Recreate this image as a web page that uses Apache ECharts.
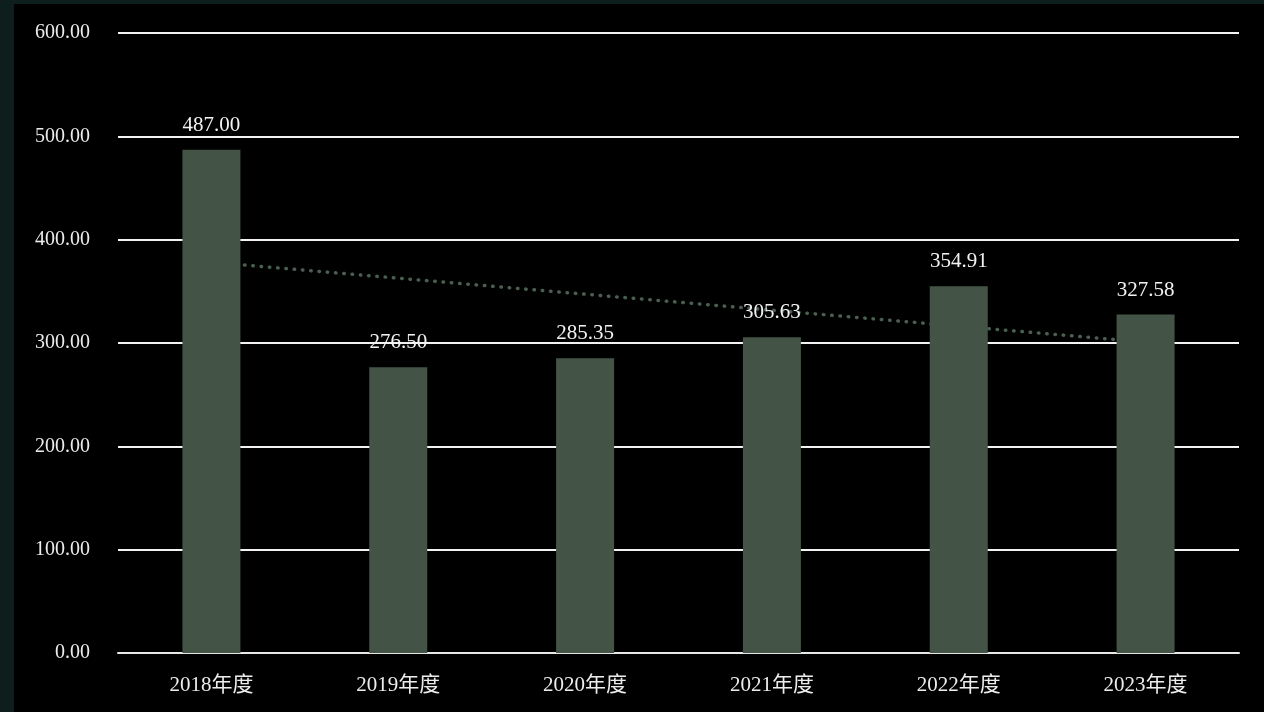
<!DOCTYPE html>
<html>
<head>
<meta charset="utf-8">
<script src="https://cdn.jsdelivr.net/npm/echarts@6/dist/echarts.min.js"></script>
<style>
  html, body { margin: 0; padding: 0; width: 1264px; height: 712px; background: #0e1e1d; overflow: hidden; }
  #chart { position: absolute; left: 14px; top: 4px; width: 1250px; height: 708px; background: #000; }
</style>
</head>
<body>
<div id="chart"></div>
<script>
// Fiscal years and their values
const categories = ['2018年度', '2019年度', '2020年度', '2021年度', '2022年度', '2023年度'];
const values = [487.00, 276.50, 285.35, 305.63, 354.91, 327.58];
const yTicks = { min: 0, max: 600, interval: 100 };

// Least-squares linear trend over the yearly values
function linearTrend(ys) {
  const n = ys.length;
  const mx = (n - 1) / 2;
  const my = ys.reduce((a, b) => a + b, 0) / n;
  let sxy = 0, sxx = 0;
  ys.forEach((y, i) => { sxy += (i - mx) * (y - my); sxx += (i - mx) * (i - mx); });
  const slope = sxy / sxx;
  return ys.map((_, i) => my + slope * (i - mx));
}
const trend = linearTrend(values);

const fontFamily = '"Liberation Serif", "DejaVu Serif", "Noto Sans CJK SC", serif';
const chart = echarts.init(document.getElementById('chart'));
chart.setOption({
  backgroundColor: '#000',
  animation: false,
  grid: { left: 104, right: 25, top: 29, bottom: 59, containLabel: false },
  xAxis: {
    type: 'category',
    data: categories,
    axisLine: { show: true, lineStyle: { color: '#e8e8e8', width: 2 } },
    axisTick: { show: false },
    axisLabel: { color: '#ececec', fontSize: 21, fontFamily: fontFamily, margin: 22 }
  },
  yAxis: {
    type: 'value',
    min: yTicks.min, max: yTicks.max, interval: yTicks.interval,
    axisLine: { show: false },
    axisTick: { show: false },
    axisLabel: { color: '#ececec', fontSize: 20, fontFamily: fontFamily, margin: 28,
      formatter: v => v.toFixed(2) },
    splitLine: { show: true, lineStyle: { color: '#f2f2f2', width: 2 } }
  },
  series: [
    {
      type: 'line',
      data: trend,
      symbol: 'none',
      z: 1,
      lineStyle: { color: '#4a5f51', width: 3.5, type: [0.5, 7.8], cap: 'round' },
      silent: true
    },
    {
      type: 'bar',
      data: values,
      barWidth: 58,
      z: 2,
      itemStyle: { color: '#435446' },
      label: {
        show: true, position: 'top', distance: 14,
        color: '#f2f2f2', fontSize: 21, fontFamily: fontFamily,
        formatter: p => p.value.toFixed(2)
      }
    }
  ]
});
</script>
</body>
</html>
